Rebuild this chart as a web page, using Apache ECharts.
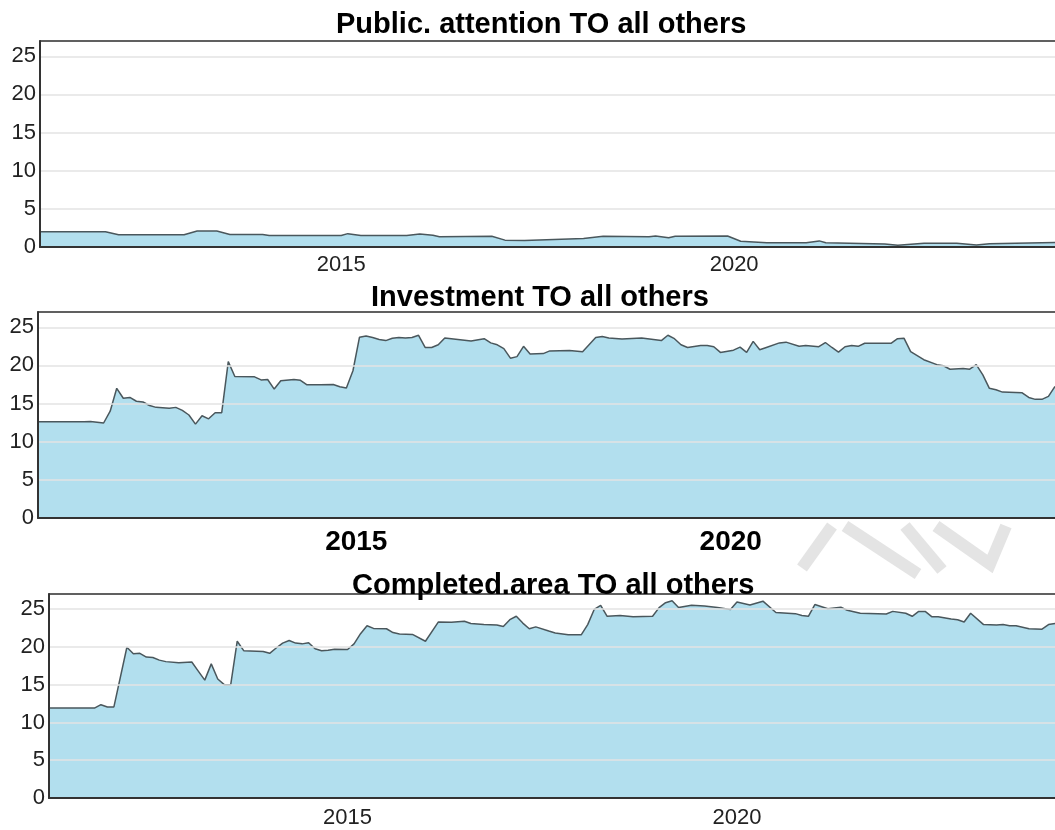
<!DOCTYPE html>
<html>
<head>
<meta charset="utf-8">
<title>TO all others</title>
<script src="https://cdn.jsdelivr.net/npm/echarts@6/dist/echarts.min.js"></script>
<style>
  html, body { margin: 0; padding: 0; background: #fff; }
  #main { width: 1055px; height: 830px; }
</style>
</head>
<body>
<div id="main"></div>
<script>
// panel titles
var titles = ['Public. attention TO all others', 'Investment TO all others', 'Completed.area TO all others'];
// x tick labels (years)
var xTickYears = [2015, 2020];

// Public. attention
var attentionDates = ['2011-03', '2012-01', '2012-03', '2013-01', '2013-03', '2013-06', '2013-08', '2014-01', '2014-02',
  '2015-01', '2015-02', '2015-04', '2015-11', '2016-01', '2016-03', '2016-04', '2016-12', '2017-02', '2017-05',
  '2018-02', '2018-05', '2018-12', '2019-01', '2019-03', '2019-04', '2019-12', '2020-02', '2020-06', '2020-12',
  '2021-02', '2021-03', '2021-12', '2022-02', '2022-06', '2022-11', '2023-02', '2023-04', '2024-02'];
var attentionValues = [2.0, 2.0, 1.6, 1.6, 2.1, 2.1, 1.65, 1.65, 1.5,
  1.5, 1.75, 1.5, 1.5, 1.7, 1.55, 1.35, 1.4, 0.9, 0.85,
  1.1, 1.4, 1.35, 1.45, 1.2, 1.4, 1.45, 0.75, 0.57, 0.57,
  0.8, 0.57, 0.4, 0.22, 0.48, 0.5, 0.26, 0.44, 0.6];

// Investment
var investDates = ['2011-03', '2011-10', '2011-11', '2012-01', '2012-02', '2012-03', '2012-04', '2012-05', '2012-06',
  '2012-07', '2012-08', '2012-09', '2012-11', '2012-12', '2013-01', '2013-02', '2013-03', '2013-04', '2013-05',
  '2013-06', '2013-07', '2013-08', '2013-09', '2013-12', '2014-01', '2014-02', '2014-03', '2014-04', '2014-06',
  '2014-07', '2014-08', '2014-10', '2014-12', '2015-01', '2015-02', '2015-03', '2015-04', '2015-05', '2015-06',
  '2015-07', '2015-08', '2015-09', '2015-10', '2015-11', '2015-12', '2016-01', '2016-02', '2016-03', '2016-04',
  '2016-05', '2016-07', '2016-09', '2016-11', '2016-12', '2017-01', '2017-02', '2017-03', '2017-04', '2017-05',
  '2017-06', '2017-08', '2017-09', '2017-12', '2018-02', '2018-04', '2018-05', '2018-06', '2018-08', '2018-11',
  '2019-02', '2019-03', '2019-04', '2019-05', '2019-06', '2019-08', '2019-09', '2019-10', '2019-11', '2020-01',
  '2020-02', '2020-03', '2020-04', '2020-05', '2020-06', '2020-08', '2020-09', '2020-11', '2020-12', '2021-02',
  '2021-03', '2021-04', '2021-05', '2021-06', '2021-07', '2021-08', '2021-09', '2022-01', '2022-02', '2022-03',
  '2022-04', '2022-06', '2022-08', '2022-09', '2022-10', '2022-12', '2023-01', '2023-02', '2023-03', '2023-04',
  '2023-05', '2023-06', '2023-09', '2023-10', '2023-11', '2023-12', '2024-01', '2024-02'];
var investValues = [12.6, 12.6, 12.65, 12.45, 14.0, 17.0, 15.7, 15.8, 15.3,
  15.2, 14.75, 14.5, 14.4, 14.5, 14.1, 13.5, 12.3, 13.4, 13.0,
  13.8, 13.8, 20.5, 18.55, 18.5, 18.1, 18.15, 16.9, 18.0, 18.15,
  18.05, 17.45, 17.45, 17.5, 17.2, 17.05, 19.3, 23.7, 23.85, 23.65,
  23.4, 23.25, 23.55, 23.65, 23.6, 23.65, 23.95, 22.35, 22.35, 22.7,
  23.6, 23.4, 23.2, 23.5, 22.95, 22.7, 22.2, 20.95, 21.15, 22.5,
  21.5, 21.55, 21.9, 21.95, 21.8, 23.65, 23.8, 23.6, 23.45, 23.6,
  23.25, 23.95, 23.5, 22.7, 22.35, 22.6, 22.6, 22.45, 21.7, 22.0,
  22.4, 21.7, 23.15, 22.05, 22.35, 22.95, 23.05, 22.5, 22.6, 22.45,
  23.0, 22.35, 21.75, 22.45, 22.6, 22.5, 22.9, 22.9, 23.5, 23.55,
  21.8, 20.75, 20.1, 19.95, 19.5, 19.6, 19.5, 20.1, 18.75, 17.0,
  16.8, 16.5, 16.4, 15.8, 15.55, 15.55, 15.95, 17.25];

// Completed.area
var completedDates = ['2011-03', '2011-10', '2011-11', '2011-12', '2012-01', '2012-03', '2012-04', '2012-05', '2012-06',
  '2012-07', '2012-08', '2012-09', '2012-11', '2013-01', '2013-02', '2013-03', '2013-04', '2013-05', '2013-06',
  '2013-07', '2013-08', '2013-09', '2013-12', '2014-01', '2014-02', '2014-03', '2014-04', '2014-05', '2014-06',
  '2014-07', '2014-08', '2014-09', '2014-10', '2014-11', '2015-01', '2015-02', '2015-03', '2015-04', '2015-05',
  '2015-07', '2015-08', '2015-09', '2015-11', '2016-01', '2016-03', '2016-05', '2016-07', '2016-08', '2016-10',
  '2016-12', '2017-01', '2017-02', '2017-03', '2017-04', '2017-05', '2017-06', '2017-08', '2017-09', '2017-11',
  '2018-01', '2018-02', '2018-03', '2018-04', '2018-05', '2018-07', '2018-09', '2018-12', '2019-01', '2019-02',
  '2019-03', '2019-04', '2019-06', '2019-08', '2019-10', '2019-12', '2020-01', '2020-03', '2020-05', '2020-07',
  '2020-10', '2020-11', '2020-12', '2021-01', '2021-03', '2021-05', '2021-06', '2021-08', '2021-12', '2022-01',
  '2022-03', '2022-04', '2022-05', '2022-06', '2022-07', '2022-08', '2022-10', '2022-11', '2022-12', '2023-01',
  '2023-03', '2023-05', '2023-06', '2023-07', '2023-08', '2023-10', '2023-12', '2024-01', '2024-02'];
var completedValues = [11.9, 11.9, 12.35, 12.05, 12.05, 19.95, 19.1, 19.15, 18.65,
  18.6, 18.25, 18.05, 17.9, 18.0, 16.8, 15.6, 17.75, 15.75, 15.0,
  15.0, 20.75, 19.5, 19.4, 19.15, 19.85, 20.5, 20.85, 20.5, 20.4,
  20.55, 19.75, 19.5, 19.55, 19.7, 19.65, 20.4, 21.75, 22.8, 22.45,
  22.4, 21.9, 21.7, 21.65, 20.75, 23.3, 23.25, 23.4, 23.1, 22.95,
  22.9, 22.7, 23.6, 24.05, 23.15, 22.4, 22.65, 22.1, 21.85, 21.6,
  21.6, 22.95, 24.95, 25.5, 24.05, 24.15, 24.0, 24.05, 25.2, 25.85,
  26.1, 25.2, 25.5, 25.4, 25.2, 24.95, 25.95, 25.55, 26.05, 24.55,
  24.4, 24.15, 24.05, 25.6, 25.05, 25.25, 24.85, 24.45, 24.35, 24.7,
  24.45, 24.05, 24.7, 24.7, 24.0, 24.0, 23.7, 23.6, 23.3, 24.45,
  22.95, 22.9, 22.95, 22.8, 22.8, 22.4, 22.35, 22.95, 23.1];

// 'YYYY-MM' -> decimal year
function toYear(d) {
  var p = d.split('-');
  return +p[0] + (+p[1] - 1) / 12;
}
function pairs(dates, values) {
  return dates.map(function (d, i) { return [toYear(d), values[i]]; });
}
function yearLabel(v) { return String(Math.round(v)); }

var xMin = toYear('2011-03');
var xMax = toYear('2024-02');
var font = 'Liberation Sans, Arial, Helvetica, sans-serif';

var grids = [
  { left: 40, right: 0, top: 41, height: 206 },
  { left: 38, right: 0, top: 312, height: 206 },
  { left: 49, right: 0, top: 594, height: 204 }
];

// bottom axis with the year labels
function xAxisFor(i, margin) {
  return {
    type: 'value', gridIndex: i, min: xMin, max: xMax, z: 5, position: 'bottom',
    axisLine: { show: true, onZero: false, lineStyle: { color: '#333', width: 2 } },
    axisTick: { show: false },
    splitLine: { show: false },
    axisLabel: {
      customValues: xTickYears, formatter: yearLabel,
      margin: margin,
      fontFamily: font, fontSize: 22, color: '#222'
    }
  };
}
// top frame line only
function topAxisFor(i) {
  return {
    type: 'value', gridIndex: i, min: xMin, max: xMax, z: 5, position: 'top',
    axisLine: { show: true, onZero: false, lineStyle: { color: '#333', width: 1.5 } },
    axisTick: { show: false }, splitLine: { show: false }, axisLabel: { show: false }
  };
}
function yAxisFor(i) {
  return {
    type: 'value', gridIndex: i, min: 0, max: 27, interval: 5, z: 5,
    axisLine: { show: true, lineStyle: { color: '#333', width: 2 } },
    axisTick: { show: false },
    splitLine: { show: true, lineStyle: { color: '#e3e3e3', width: 1.5 } },
    axisLabel: { showMaxLabel: false, margin: 4, fontFamily: font, fontSize: 22, color: '#222' }
  };
}

var xAxes = [xAxisFor(0, 7), xAxisFor(1, 7), xAxisFor(2, 9), topAxisFor(0), topAxisFor(1), topAxisFor(2)];
// the middle panel shows its year labels in bold, sitting a little off the others
xAxes[1].axisLabel = { show: false };
xAxes.push({
  type: 'value', gridIndex: 1, min: 2010.75, max: 2024.33, position: 'bottom',
  axisLine: { show: false, onZero: false }, axisTick: { show: false }, splitLine: { show: false },
  axisLabel: {
    customValues: xTickYears, formatter: yearLabel, margin: 10,
    fontFamily: font, fontSize: 28, fontWeight: 'bold', color: '#000'
  }
});

function areaSeries(i, dates, values) {
  return {
    type: 'line', xAxisIndex: i, yAxisIndex: i,
    data: pairs(dates, values),
    showSymbol: false, symbol: 'none',
    lineStyle: { color: '#4a575c', width: 1.5 },
    areaStyle: { color: '#b2dfee', opacity: 1 }
  };
}

var titleLefts = [336, 371, 352];
var titleTops = [10, 283, 571];

var option = {
  animation: false,
  backgroundColor: '#fff',
  title: titles.map(function (t, i) {
    return {
      text: t, left: titleLefts[i], top: titleTops[i], padding: 0,
      textStyle: { fontFamily: font, fontSize: 29, fontWeight: 'bold', color: '#000' }
    };
  }),
  grid: grids,
  xAxis: xAxes,
  yAxis: [yAxisFor(0), yAxisFor(1), yAxisFor(2)],
  series: [
    areaSeries(0, attentionDates, attentionValues),
    areaSeries(1, investDates, investValues),
    areaSeries(2, completedDates, completedValues)
  ],
  // faint grey watermark strokes between the lower two panels
  graphic: [
    { type: 'polyline', z: -1, shape: { points: [[832, 526], [802, 568]] }, style: { stroke: '#e4e4e4', lineWidth: 12, fill: null } },
    { type: 'polyline', z: -1, shape: { points: [[845, 526], [918, 574]] }, style: { stroke: '#e4e4e4', lineWidth: 12, fill: null } },
    { type: 'polyline', z: -1, shape: { points: [[905, 526], [942, 570]] }, style: { stroke: '#e4e4e4', lineWidth: 12, fill: null } },
    { type: 'polyline', z: -1, shape: { points: [[936, 526], [990, 564], [1006, 526]] }, style: { stroke: '#e4e4e4', lineWidth: 12, fill: null } }
  ]
};

var myChart = echarts.init(document.getElementById('main'));
myChart.setOption(option);
</script>
</body>
</html>
